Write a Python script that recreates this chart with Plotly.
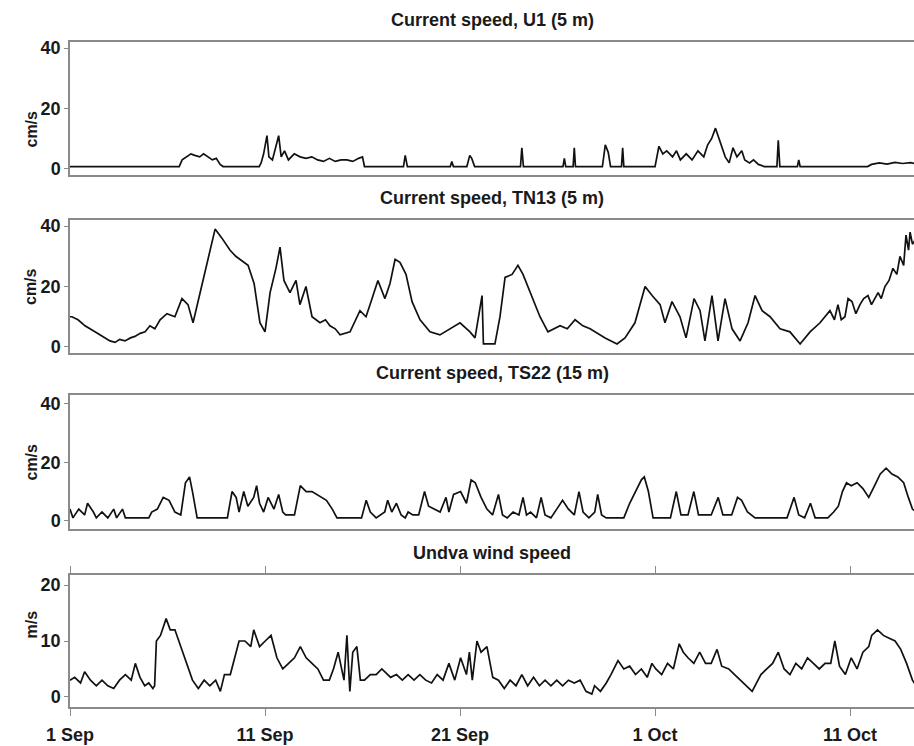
import pandas as pd
import plotly.graph_objects as go
from plotly.subplots import make_subplots

START = pd.Timestamp("2007-09-01")

# ---- U1 current speed (cm/s): days since 1 Sep, values
u1_days = [0.0, 5.6, 5.75, 5.95, 6.2, 6.4, 6.65, 6.85, 7.1, 7.3, 7.5, 7.7, 7.85, 9.7,
           9.8, 9.93, 10.1, 10.2, 10.38, 10.5, 10.7, 10.83, 11.0, 11.2, 11.5, 11.8, 12.1,
           12.4, 12.7, 13.0, 13.3, 13.6, 13.9, 14.2, 14.5, 14.8, 15.0, 15.1,
           17.1, 17.19, 17.3, 19.5, 19.58, 19.66, 20.35, 20.5, 20.6, 20.75, 23.1, 23.17, 23.25,
           25.28, 25.35, 25.42, 25.8, 25.86, 25.92, 27.3, 27.45, 27.6, 27.72, 28.28, 28.34, 28.4,
           30.0, 30.2, 30.4, 30.6, 30.9, 31.1, 31.3, 31.6, 31.9, 32.2, 32.5, 32.7, 32.9, 33.1,
           33.35, 33.6, 33.8, 34.0, 34.2, 34.45, 34.6, 34.85, 35.05, 35.3, 35.6, 36.25, 36.32,
           36.4, 37.3, 37.37, 37.44, 40.9, 41.1, 41.5, 41.9, 42.3, 42.7, 43.1, 43.4]
u1_vals = [0.8, 0.8, 3.0, 4.0, 5.0, 4.5, 4.0, 5.0, 4.0, 3.0, 3.5, 1.5, 0.8, 0.8,
           2.0, 5.0, 11.0, 4.0, 3.0, 6.0, 11.0, 4.0, 6.0, 3.0, 5.0, 4.0, 3.5,
           4.0, 3.0, 2.5, 3.5, 2.5, 3.0, 3.0, 2.5, 3.5, 4.0, 0.8,
           0.8, 4.5, 0.8, 0.8, 2.5, 0.8, 0.8, 4.5, 3.5, 0.8, 0.8, 7.0, 0.8,
           0.8, 3.5, 0.8, 0.8, 7.0, 0.8, 0.8, 8.0, 5.5, 0.8, 0.8, 7.0, 0.8,
           0.8, 7.5, 5.0, 6.0, 4.0, 6.0, 3.0, 5.0, 3.0, 6.0, 4.0, 8.0, 10.0, 13.5,
           9.0, 4.0, 2.0, 7.0, 4.0, 6.0, 3.0, 2.0, 3.0, 1.5, 0.8, 0.8, 9.5,
           0.8, 0.8, 3.0, 0.8, 0.8, 1.5, 2.0, 1.6, 2.2, 1.8, 2.1, 1.7]

# ---- TN13 current speed (cm/s)
tn13_days = [0.0, 0.1, 0.41, 0.77, 1.28, 1.79, 2.05, 2.31, 2.55, 2.82, 3.1, 3.33, 3.6, 3.85,
             4.1, 4.35, 4.62, 4.97, 5.38, 5.74, 6.05, 6.31, 6.67, 7.03, 7.44, 7.79, 8.21,
             8.5, 8.72, 9.13, 9.44, 9.74, 10.0, 10.26, 10.56, 10.77, 10.97, 11.28, 11.59,
             11.79, 12.1, 12.41, 12.82, 13.1, 13.33, 13.6, 13.85, 14.36, 14.87, 15.18,
             15.49, 15.79, 16.15, 16.41, 16.67, 16.92, 17.23, 17.54, 17.95, 18.2, 18.46,
             18.97, 19.49, 20.0, 20.51, 20.77, 21.13, 21.2, 21.33, 21.79, 22.05, 22.31,
             22.67, 22.97, 23.23, 23.59, 24.1, 24.51, 25.13, 25.5, 25.9, 26.3, 26.67,
             27.44, 28.05, 28.46, 28.97, 29.49, 29.85, 30.26, 30.51, 30.87, 31.28, 31.59,
             32.0, 32.31, 32.56, 32.92, 33.23, 33.59, 33.95, 34.36, 34.77, 35.13, 35.49,
             35.9, 36.41, 36.92, 37.44, 37.95, 38.46, 38.97, 39.2, 39.38, 39.55, 39.74,
             39.9, 40.1, 40.3, 40.51, 40.7, 40.92, 41.1, 41.44, 41.6, 41.79, 42.0, 42.2,
             42.4, 42.56, 42.75, 42.87, 43.0, 43.08, 43.2, 43.4]
tn13_vals = [10.0, 10.0, 9.0, 7.0, 5.0, 3.0, 2.0, 1.5, 2.5, 2.0, 3.0, 3.5, 4.5, 5.0,
             7.0, 6.0, 9.0, 11.0, 10.0, 16.0, 14.0, 8.0, 18.0, 28.0, 39.0, 36.0, 32.0,
             30.0, 29.0, 27.0, 21.0, 8.0, 5.0, 18.0, 26.0, 33.0, 22.0, 18.0, 22.0,
             14.0, 20.0, 10.0, 8.0, 9.0, 7.0, 6.0, 4.0, 5.0, 12.0, 10.0,
             16.0, 22.0, 16.0, 21.0, 29.0, 28.0, 24.0, 15.0, 9.0, 7.0, 5.0,
             4.0, 6.0, 8.0, 5.0, 3.0, 17.0, 1.0, 1.0, 1.0, 10.0, 23.0,
             24.0, 27.0, 24.0, 18.0, 10.0, 5.0, 7.0, 6.0, 9.0, 7.0, 6.0,
             3.0, 1.0, 3.0, 8.0, 20.0, 17.0, 14.0, 8.0, 15.0, 10.0, 3.0,
             16.0, 12.0, 2.0, 17.0, 2.0, 16.0, 6.0, 2.0, 8.0, 17.0, 12.0,
             10.0, 6.0, 5.0, 1.0, 5.0, 8.0, 12.0, 9.0, 14.0, 9.0, 10.0,
             16.0, 15.0, 11.0, 14.0, 16.0, 17.0, 14.0, 18.0, 16.0, 20.0, 22.0, 26.0,
             24.0, 30.0, 27.0, 37.0, 32.0, 38.0, 34.0, 36.0]

# ---- TS22 current speed (cm/s)
ts22_days = [0.0, 0.15, 0.45, 0.75, 0.9, 1.2, 1.35, 1.64, 1.94, 2.24, 2.39, 2.69, 2.84,
             3.14, 4.04, 4.19, 4.48, 4.78, 5.08, 5.38, 5.68, 5.92, 6.13, 6.28, 6.52, 8.07,
             8.31, 8.52, 8.67, 8.91, 9.12, 9.42, 9.57, 9.72, 9.93, 10.16, 10.46, 10.7,
             10.91, 11.06, 11.51, 11.81, 12.11, 12.41, 12.86, 13.15, 13.45, 13.69, 14.95,
             15.19, 15.4, 15.7, 16.14, 16.29, 16.5, 16.74, 16.98, 17.19, 17.34, 17.58,
             17.88, 18.18, 18.39, 18.68, 18.98, 19.28, 19.43, 19.67, 20.03, 20.33, 20.57,
             20.78, 21.08, 21.38, 21.67, 21.97, 22.18, 22.42, 22.72, 23.02, 23.23, 23.41,
             23.62, 23.92, 24.16, 24.36, 24.66, 24.96, 25.26, 25.56, 25.86, 26.1, 26.31,
             26.61, 26.91, 27.06, 27.26, 27.5, 28.4, 28.7, 29.0, 29.3, 29.45, 29.66, 29.9,
             30.79, 31.09, 31.33, 31.69, 31.99, 32.23, 32.88, 33.24, 33.48, 33.93, 34.23,
             34.44, 34.74, 35.13, 36.77, 37.13, 37.37, 37.67, 37.97, 38.21, 38.86, 39.16,
             39.4, 39.61, 39.82, 40.06, 40.36, 40.66, 40.96, 41.26, 41.55, 41.85, 42.15,
             42.45, 42.75, 42.99, 43.2, 43.4]
ts22_vals = [4.0, 1.0, 4.0, 2.0, 6.0, 3.0, 1.0, 3.0, 1.0, 4.0, 1.0, 4.0, 1.0,
             1.0, 1.0, 3.0, 4.0, 8.0, 7.0, 3.0, 2.0, 13.0, 15.0, 10.0, 1.0, 1.0,
             10.0, 8.0, 3.0, 10.0, 5.0, 8.0, 12.0, 6.0, 3.0, 8.0, 4.0, 9.0,
             3.0, 2.0, 2.0, 12.0, 10.0, 10.0, 8.0, 7.0, 4.0, 1.0, 1.0,
             7.0, 3.0, 1.0, 3.0, 7.0, 3.0, 6.0, 2.0, 1.0, 3.0, 2.0,
             2.0, 10.0, 5.0, 4.0, 3.0, 8.0, 3.0, 9.0, 10.0, 6.0, 14.0,
             13.0, 8.0, 4.0, 2.0, 9.0, 2.0, 1.0, 3.0, 2.0, 8.0, 2.0,
             3.0, 1.0, 8.0, 2.0, 1.0, 4.0, 7.0, 4.0, 2.0, 10.0, 3.0,
             1.0, 3.0, 9.0, 2.0, 1.0, 1.0, 6.0, 10.0, 14.0, 15.0, 10.0, 1.0,
             1.0, 10.0, 2.0, 2.0, 10.0, 2.0, 2.0, 8.0, 2.0, 2.0, 8.0,
             7.0, 3.0, 1.0, 1.0, 8.0, 2.0, 1.0, 6.0, 1.0, 1.0, 3.0,
             5.0, 10.0, 13.0, 12.0, 13.0, 11.0, 8.0, 12.0, 16.0, 18.0, 16.0,
             15.0, 13.0, 8.0, 4.0, 3.0]

# ---- Undva wind speed (m/s)
wind_days = [0.0, 0.24, 0.54, 0.75, 1.05, 1.35, 1.64, 1.94, 2.24, 2.54, 2.84, 3.14, 3.35,
             3.59, 3.83, 4.04, 4.25, 4.34, 4.43, 4.64, 4.93, 5.14, 5.38, 5.68, 5.98, 6.28,
             6.58, 6.88, 7.17, 7.47, 7.71, 7.92, 8.22, 8.43, 8.67, 8.97, 9.27, 9.42, 9.72,
             10.01, 10.31, 10.61, 10.91, 11.21, 11.51, 11.81, 12.11, 12.41, 12.71, 13.0,
             13.3, 13.51, 13.75, 14.05, 14.2, 14.35, 14.5, 14.71, 14.89, 15.1, 15.4, 15.7,
             15.99, 16.44, 16.74, 17.04, 17.34, 17.64, 17.94, 18.24, 18.54, 18.83, 19.13,
             19.43, 19.73, 20.03, 20.33, 20.48, 20.63, 20.87, 21.08, 21.38, 21.68, 21.97,
             22.27, 22.57, 22.87, 23.17, 23.47, 23.77, 24.07, 24.36, 24.66, 24.96, 25.26,
             25.56, 25.86, 26.16, 26.46, 26.76, 26.9, 27.2, 27.5, 27.74, 28.1, 28.4, 28.7,
             29.0, 29.3, 29.6, 29.84, 30.04, 30.34, 30.64, 30.94, 31.24, 31.45, 31.69,
             31.99, 32.29, 32.59, 32.88, 33.18, 33.42, 33.78, 34.08, 34.38, 34.68, 34.98,
             35.28, 35.43, 35.73, 36.03, 36.32, 36.62, 36.92, 37.22, 37.52, 37.82, 38.12,
             38.42, 38.72, 39.01, 39.22, 39.46, 39.76, 40.06, 40.36, 40.66, 40.96, 41.11,
             41.41, 41.71, 42.01, 42.31, 42.6, 42.9, 43.2, 43.4]
wind_vals = [3.0, 3.5, 2.5, 4.5, 3.0, 2.0, 3.0, 2.0, 1.5, 3.0, 4.0, 3.0, 6.0,
             3.5, 2.0, 2.5, 1.5, 2.0, 10.0, 11.0, 14.0, 12.0, 12.0, 9.0, 6.0, 3.0,
             1.5, 3.0, 2.0, 3.0, 1.0, 4.0, 4.0, 7.0, 10.0, 10.0, 9.0, 12.0, 9.0,
             10.0, 11.0, 7.0, 5.0, 6.0, 7.0, 9.0, 7.0, 6.0, 5.0, 3.0,
             3.0, 5.0, 8.0, 3.0, 11.0, 1.0, 8.0, 9.0, 3.0, 3.0, 4.0, 4.0,
             5.0, 3.5, 4.0, 3.0, 4.0, 3.0, 4.0, 3.0, 2.5, 4.0, 3.0,
             6.0, 3.0, 7.0, 4.0, 8.0, 3.0, 10.0, 8.0, 9.0, 3.5, 3.0,
             1.5, 3.0, 2.0, 4.0, 2.0, 3.5, 2.0, 3.0, 2.0, 3.0, 2.0,
             3.0, 2.5, 3.0, 1.0, 0.5, 2.0, 1.0, 2.5, 4.0, 6.5, 5.0, 5.5,
             4.0, 5.0, 3.5, 6.0, 5.0, 4.0, 6.0, 5.0, 9.5, 8.0, 7.0,
             6.0, 8.0, 6.0, 6.0, 8.5, 5.5, 5.0, 4.0, 3.0, 2.0, 1.0,
             3.0, 4.0, 5.0, 6.0, 8.0, 5.0, 4.0, 6.0, 5.0, 7.0, 6.0,
             5.0, 6.0, 6.0, 10.0, 5.5, 4.0, 7.0, 5.0, 8.0, 9.0, 11.0,
             12.0, 11.0, 10.5, 10.0, 8.5, 6.0, 3.0, 2.0]

titles = ["Current speed, U1 (5 m)", "Current speed, TN13 (5 m)",
          "Current speed, TS22 (15 m)", "Undva wind speed"]
units = ["cm/s", "cm/s", "cm/s", "m/s"]
tick_dates = ["2007-09-01", "2007-09-11", "2007-09-21", "2007-10-01", "2007-10-11"]
tick_text = ["1 Sep", "11 Sep", "21 Sep", "1 Oct", "11 Oct"]
y_ticks = [[0, 20, 40], [0, 20, 40], [0, 20, 40], [0, 10, 20]]
y_ranges = [[-2.0, 42.0], [-2.0, 42.0], [-2.8, 43.0], [-1.8, 21.8]]

series = [(u1_days, u1_vals), (tn13_days, tn13_vals), (ts22_days, ts22_vals),
          (wind_days, wind_vals)]

def to_time(days):
    return [START + pd.to_timedelta(d, unit="D") for d in days]

W, H = 914, 746
ML, MR, MT, MB = 70, 0, 42, 39
ph = H - MT - MB
# panel pixel extents (top, bottom)
panels_px = [(42, 175), (220, 353), (395, 529), (575, 707)]
domains = [[(707 - b) / ph, (707 - t) / ph] for t, b in panels_px]

fig = make_subplots(rows=4, cols=1, shared_xaxes=False, vertical_spacing=0.05)

FONT = "Liberation Sans, Arial, sans-serif"
AX = "#8a8a8a"
TXT = "#1a1a1a"
x_end = START + pd.to_timedelta(43.28, unit="D")

for i, (d, v) in enumerate(series):
    fig.add_trace(go.Scatter(x=to_time(d), y=v, mode="lines",
                             line=dict(color="#111111", width=1.7),
                             showlegend=False, hoverinfo="skip"),
                  row=i + 1, col=1)
    last = i == 3
    fig.update_xaxes(row=i + 1, col=1, type="date", range=[START, x_end],
                     showline=True, linecolor=AX, linewidth=2,
                     mirror="ticks" if last else True,
                     ticks="outside" if last else "", ticklen=7, tickwidth=1.2,
                     tickcolor=AX, tickvals=tick_dates, ticktext=tick_text,
                     showticklabels=last, showgrid=False, zeroline=False,
                     ticklabelstandoff=3,
                     tickfont=dict(family=FONT, size=18, color=TXT, weight="bold"))
    fig.update_yaxes(row=i + 1, col=1, domain=domains[i], range=y_ranges[i],
                     showline=True, linecolor=AX, linewidth=1.5, mirror=False,
                     ticks="outside", ticklen=4, tickwidth=1.2, tickcolor=AX,
                     tickvals=y_ticks[i], showgrid=False, zeroline=False,
                     tickfont=dict(family=FONT, size=18, color=TXT, weight="bold"))
    ymid = (domains[i][0] + domains[i][1]) / 2
    fig.add_annotation(xref="paper", yref="paper", x=0, y=ymid, xshift=-50,
                       text=units[i], showarrow=False, textangle=-90,
                       font=dict(family=FONT, size=16, color=TXT, weight="bold"))
    fig.add_annotation(xref="paper", yref="paper", x=0.5, y=domains[i][1],
                       yshift=22, text=titles[i], showarrow=False,
                       xanchor="center", yanchor="middle",
                       font=dict(family=FONT, size=18, color=TXT, weight="bold"))

fig.update_layout(width=W, height=H, margin=dict(l=ML, r=MR, t=MT, b=MB),
                  plot_bgcolor="white", paper_bgcolor="white",
                  font=dict(family=FONT, color=TXT))

fig.write_html("out.html")
